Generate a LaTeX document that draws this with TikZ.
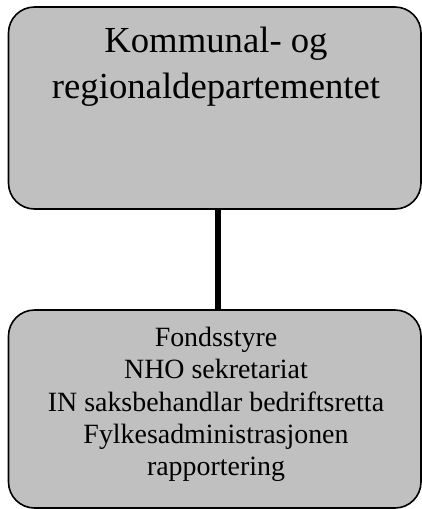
\documentclass[tikz,border=0pt]{standalone}
\usepackage{fontspec}
\setmainfont{Liberation Serif}
\usetikzlibrary{positioning}

\definecolor{boxgray}{HTML}{C0C0C0}
\tikzset{
    orgbox/.style={draw, line width=1.6pt, fill=boxgray, rounded corners=26pt, inner sep=0pt},
    orgtext/.style={inner sep=0pt, align=center, anchor=north},
    conn/.style={line width=6pt}
}

\begin{document}
\begin{tikzpicture}[x=1pt,y=-1pt]
            \useasboundingbox (0,0) rectangle (422,509);
            \node[orgbox, minimum width=412.5pt, minimum height=202pt] (kmd) at (214.75,108) {};
            \node[orgbox, minimum width=412.5pt, minimum height=198pt] (fond) at (214.75,409) {};
            \node[orgtext, font=\fontsize{36.7}{46}\selectfont] (kmdtext) at (216,27) {Kommunal- og\\regionaldepartementet};
            \node[orgtext, font=\fontsize{27.9}{32.3}\selectfont] (fondtext) at (216,327) {Fondsstyre\\NHO sekretariat\\IN saksbehandlar bedriftsretta\\Fylkesadministrasjonen\\rapportering};

            \draw[conn] ([xshift=3pt]kmd.south) -- ([xshift=3pt]fond.north);
        \end{tikzpicture}
\end{document}
